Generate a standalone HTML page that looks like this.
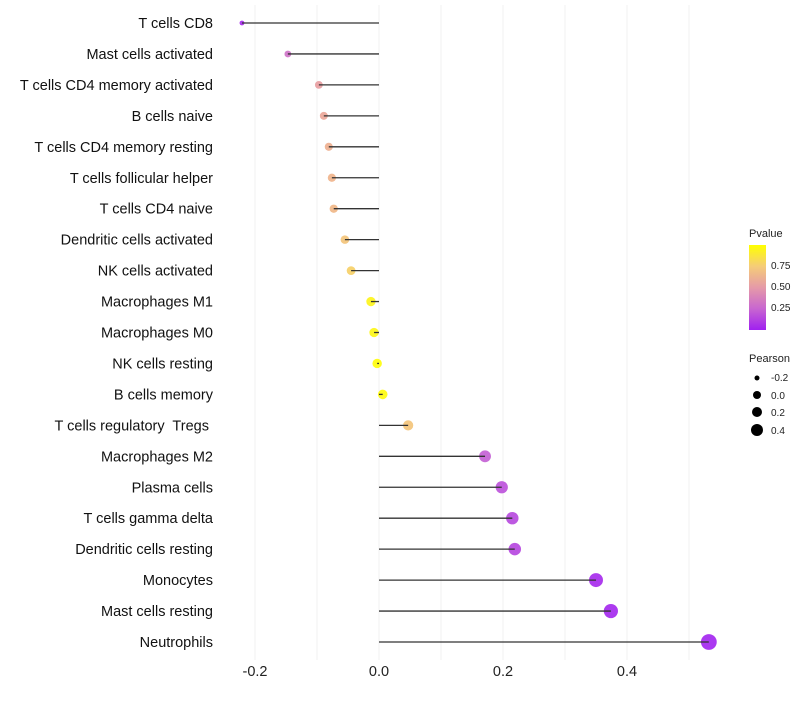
<!DOCTYPE html>
<html><head><meta charset="utf-8"><style>
body{margin:0;background:#fff;font-family:"Liberation Sans",sans-serif}
text{white-space:pre}
</style></head><body>
<svg id="c" width="800" height="700" xmlns="http://www.w3.org/2000/svg" xml:space="preserve">
<defs><linearGradient id="pg" x1="0" y1="1" x2="0" y2="0">
<stop offset="0" stop-color="#a020f0"/><stop offset="0.25" stop-color="#c866d0"/><stop offset="0.5" stop-color="#e59aa8"/><stop offset="0.75" stop-color="#f5cc78"/><stop offset="1" stop-color="#ffff00"/></linearGradient></defs>
<g id="grid"></g><g id="points"></g><g id="marks"></g><g id="labels"></g>
<g font-size="10" fill="#222">
<text x="749" y="237" font-size="11">Pvalue</text>
<rect x="749" y="245" width="17" height="85" fill="url(#pg)"/>
<text x="771" y="269">0.75</text><text x="771" y="290">0.50</text><text x="771" y="311">0.25</text>
<text x="749" y="362" font-size="11">Pearson</text>
<circle cx="757" cy="378" r="2.5" fill="#000"/><text x="771" y="381">-0.2</text>
<circle cx="757" cy="395" r="4" fill="#000"/><text x="771" y="399">0.0</text>
<circle cx="757" cy="412" r="5" fill="#000"/><text x="771" y="416">0.2</text>
<circle cx="757" cy="430" r="6" fill="#000"/><text x="771" y="434">0.4</text>
</g>
</svg>
<script>
const cells=["T cells CD8","Mast cells activated","T cells CD4 memory activated","B cells naive","T cells CD4 memory resting","T cells follicular helper","T cells CD4 naive","Dendritic cells activated","NK cells activated","Macrophages M1","Macrophages M0","NK cells resting","B cells memory","T cells regulatory  Tregs ","Macrophages M2","Plasma cells","T cells gamma delta","Dendritic cells resting","Monocytes","Mast cells resting","Neutrophils"];
const pearson=[-0.221,-0.147,-0.097,-0.089,-0.081,-0.076,-0.073,-0.055,-0.045,-0.013,-0.008,-0.003,0.006,0.047,0.171,0.198,0.215,0.219,0.350,0.374,0.532];
const pvalue=[0.03,0.3,0.5,0.55,0.6,0.63,0.65,0.72,0.78,0.95,0.96,0.99,0.98,0.72,0.22,0.17,0.14,0.13,0.03,0.02,0.01];
const ticks=[-0.2,0,0.2,0.4];
const NS="http://www.w3.org/2000/svg";
const x=v=>379+v*620, y=i=>23+i*30.95;
function col(p){const s=[[0,[160,32,240]],[0.25,[200,102,208]],[0.5,[232,156,160]],[0.75,[245,200,115]],[1,[255,255,0]]];
for(let k=1;k<s.length;k++){if(p<=s[k][0]){const t=(p-s[k-1][0])/(s[k][0]-s[k-1][0]);const a=s[k-1][1],b=s[k][1];return`rgb(${a.map((c,j)=>Math.round(c+(b[j]-c)*t)).join(",")})`;}}return"rgb(255,255,0)";}
function mk(t,a,p){const e=document.createElementNS(NS,t);for(const k in a)e.setAttribute(k,a[k]);p.appendChild(e);return e;}
const G=document.getElementById("grid"),P=document.getElementById("points"),M=document.getElementById("marks"),L=document.getElementById("labels");
[-0.2,-0.1,0,0.1,0.2,0.3,0.4,0.5].forEach(v=>{const l=mk("line",{x1:x(v),x2:x(v),y1:5,y2:660,stroke:"#f0f0f0","stroke-width":1},G);

});
ticks.forEach(v=>{const t=mk("text",{x:x(v),y:676,"text-anchor":"middle","font-size":14.5,fill:"#222"},L);t.textContent=v.toFixed(1);

});
cells.forEach((c,i)=>{const v=pearson[i];
const r=Math.sqrt(Math.max(4,6+(v+0.22)*75));
const d=mk("circle",{cx:x(v),cy:y(i),r:r,fill:col(pvalue[i]),"fill-opacity":0.9},P);


const ln=mk("line",{x1:x(0),x2:x(v),y1:y(i),y2:y(i),stroke:"#333","stroke-width":1.3},M);


const t=mk("text",{x:213,y:y(i)+5,"text-anchor":"end","font-size":14.5,fill:"#111"},L);t.textContent=c;

});
</script>
</body></html>
